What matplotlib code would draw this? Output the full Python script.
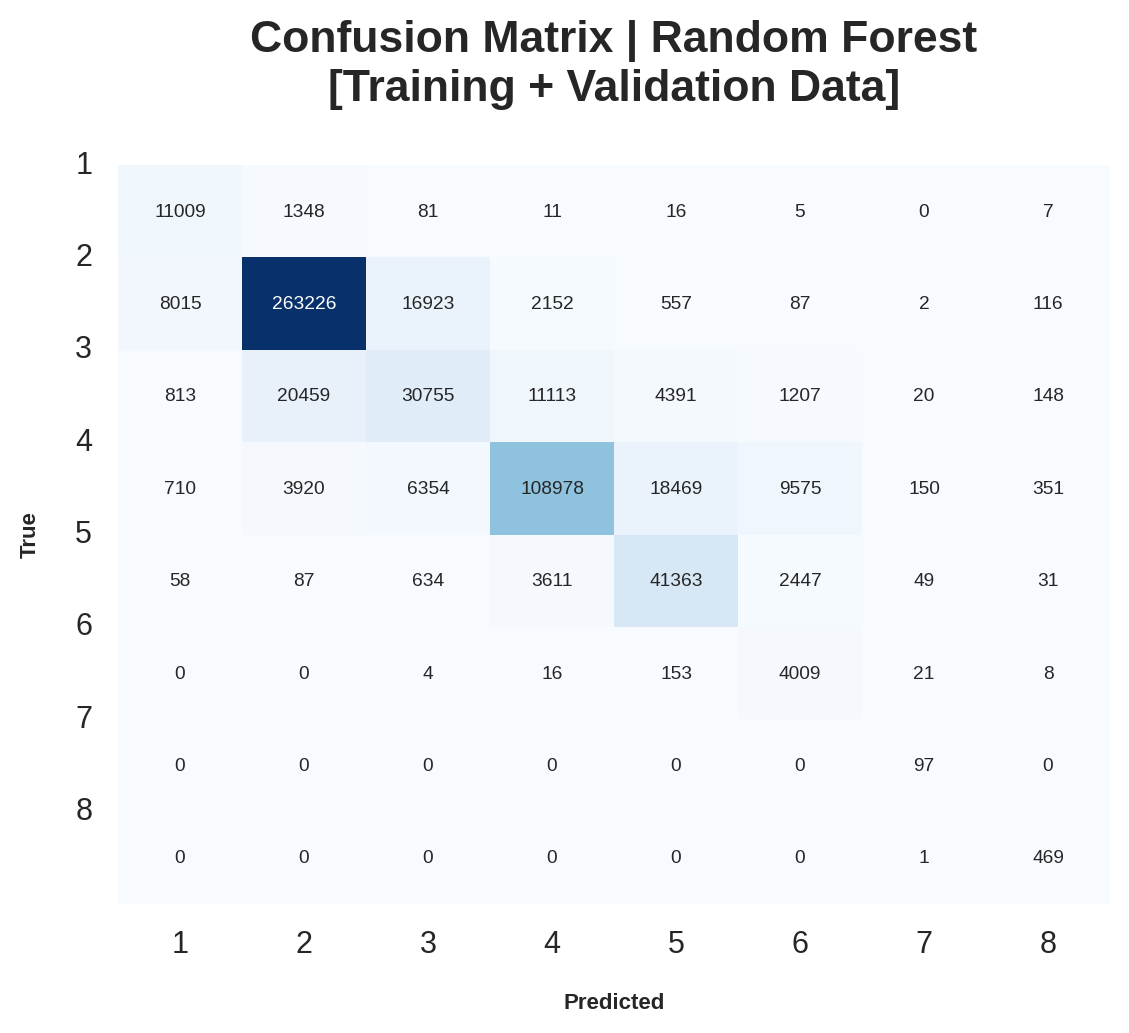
import matplotlib
matplotlib.use('Agg')
import matplotlib.pyplot as plt
from matplotlib.transforms import ScaledTranslation
import numpy as np

title = "Confusion Matrix | Random Forest\n[Training + Validation Data]"
labels = ['1', '2', '3', '4', '5', '6', '7', '8']
row1 = [11009, 1348, 81, 11, 16, 5, 0, 7]
row2 = [8015, 263226, 16923, 2152, 557, 87, 2, 116]
row3 = [813, 20459, 30755, 11113, 4391, 1207, 20, 148]
row4 = [710, 3920, 6354, 108978, 18469, 9575, 150, 351]
row5 = [58, 87, 634, 3611, 41363, 2447, 49, 31]
row6 = [0, 0, 4, 16, 153, 4009, 21, 8]
row7 = [0, 0, 0, 0, 0, 0, 97, 0]
row8 = [0, 0, 0, 0, 0, 0, 1, 469]
matrix = np.array([row1, row2, row3, row4, row5, row6, row7, row8])

plt.rcParams['font.family'] = ['Liberation Sans', 'DejaVu Sans']
dark = '#262626'
W, H = 1129, 1033
dpi = 200
fig = plt.figure(figsize=(W / dpi, H / dpi), dpi=dpi)
ax = fig.add_axes([118 / W, 1 - 904 / H, (1110 - 118) / W, (904 - 165) / H])
im = ax.pcolormesh(np.arange(9), np.arange(9), matrix, cmap='Blues', vmin=matrix.min(), vmax=matrix.max())
ax.set_xlim(0, 8)
ax.set_ylim(8, 0)
thresh = matrix.max() / 2
cell_shift = ax.transData + ScaledTranslation(0, -1 / dpi, fig.dpi_scale_trans)
for i in range(8):
    for j in range(8):
        ax.text(j + 0.5, i + 0.5, str(matrix[i, j]), ha='center', va='center', fontsize=6.9,
                color='white' if matrix[i, j] > thresh else dark, transform=cell_shift)
ax.set_xticks(np.arange(8) + 0.5, labels)
ax.set_yticks(np.arange(8), labels)
ax.tick_params(axis='both', length=0, labelsize=11, labelcolor=dark)
ax.tick_params(axis='x', pad=9.3)
ax.tick_params(axis='y', pad=9.3)
shift = ScaledTranslation(0, 3 / dpi, fig.dpi_scale_trans)
for lab in ax.get_yticklabels():
    lab.set_transform(lab.get_transform() + shift)
for s in ax.spines.values():
    s.set_visible(False)
ax.set_xlabel('Predicted', fontsize=8, fontweight='bold', color=dark, labelpad=12)
ax.set_ylabel('True', fontsize=8, fontweight='bold', color=dark, labelpad=12.3)
ax.set_title(title, fontsize=16, fontweight='bold', color=dark, pad=23.2)
fig.savefig('out.png', dpi=dpi)
